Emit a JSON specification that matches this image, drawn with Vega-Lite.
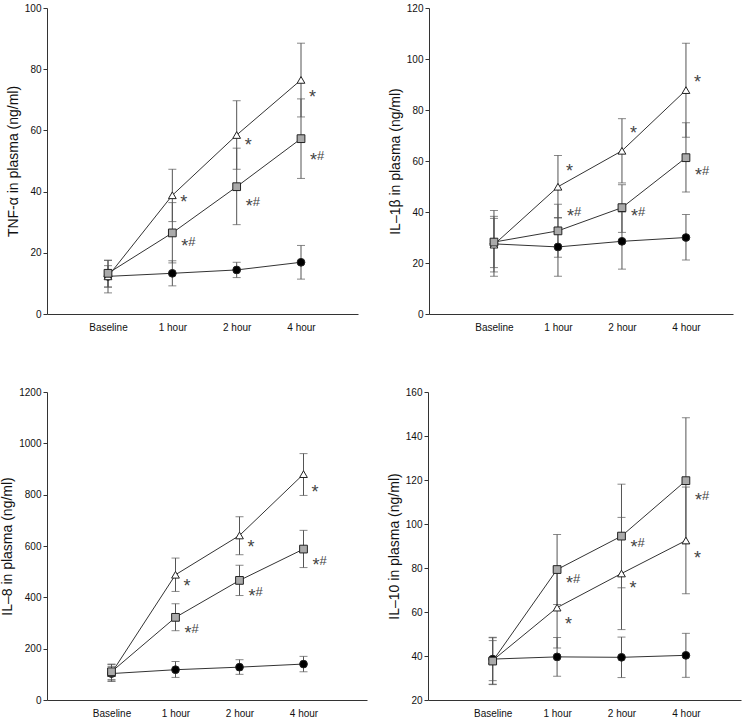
{
"$schema": "https://vega.github.io/schema/vega-lite/v6.json",
"padding": {"left": 0, "top": 3, "right": 5, "bottom": 0},
"background": "white",
"datasets": {
"pts": [
{"p":"TNF","t":"Baseline","g":"ctrl","v":12.3,"lo":6.9,"hi":17.6},
{"p":"TNF","t":"1 hour","g":"ctrl","v":13.3,"lo":9.2,"hi":17.4},
{"p":"TNF","t":"2 hour","g":"ctrl","v":14.4,"lo":11.9,"hi":16.9},
{"p":"TNF","t":"4 hour","g":"ctrl","v":16.9,"lo":11.4,"hi":22.4},
{"p":"TNF","t":"Baseline","g":"tri","v":12.3,"lo":8.8,"hi":15.8},
{"p":"TNF","t":"1 hour","g":"tri","v":38.8,"lo":30.2,"hi":47.3},
{"p":"TNF","t":"2 hour","g":"tri","v":58.5,"lo":47.3,"hi":69.7},
{"p":"TNF","t":"4 hour","g":"tri","v":76.5,"lo":64.4,"hi":88.5},
{"p":"TNF","t":"Baseline","g":"sq","v":13.3,"lo":8.8,"hi":17.5},
{"p":"TNF","t":"1 hour","g":"sq","v":26.5,"lo":16.7,"hi":36.4},
{"p":"TNF","t":"2 hour","g":"sq","v":41.6,"lo":29.2,"hi":54.2},
{"p":"TNF","t":"4 hour","g":"sq","v":57.3,"lo":44.3,"hi":70.3},
{"p":"IL1","t":"Baseline","g":"ctrl","v":27.5,"lo":16.5,"hi":38.3},
{"p":"IL1","t":"1 hour","g":"ctrl","v":26.3,"lo":14.8,"hi":37.8},
{"p":"IL1","t":"2 hour","g":"ctrl","v":28.5,"lo":17.6,"hi":40.0},
{"p":"IL1","t":"4 hour","g":"ctrl","v":30.0,"lo":21.2,"hi":39.0},
{"p":"IL1","t":"Baseline","g":"tri","v":27.2,"lo":14.8,"hi":40.6},
{"p":"IL1","t":"1 hour","g":"tri","v":49.9,"lo":37.6,"hi":62.2},
{"p":"IL1","t":"2 hour","g":"tri","v":64.0,"lo":51.4,"hi":76.6},
{"p":"IL1","t":"4 hour","g":"tri","v":87.8,"lo":69.3,"hi":106.2},
{"p":"IL1","t":"Baseline","g":"sq","v":28.2,"lo":18.2,"hi":37.5},
{"p":"IL1","t":"1 hour","g":"sq","v":32.6,"lo":22.3,"hi":43.0},
{"p":"IL1","t":"2 hour","g":"sq","v":41.7,"lo":32.0,"hi":50.7},
{"p":"IL1","t":"4 hour","g":"sq","v":61.3,"lo":47.8,"hi":75.0},
{"p":"IL8","t":"Baseline","g":"ctrl","v":103,"lo":75,"hi":131},
{"p":"IL8","t":"1 hour","g":"ctrl","v":118,"lo":88,"hi":150},
{"p":"IL8","t":"2 hour","g":"ctrl","v":128,"lo":100,"hi":157},
{"p":"IL8","t":"4 hour","g":"ctrl","v":140,"lo":110,"hi":170},
{"p":"IL8","t":"Baseline","g":"tri","v":105,"lo":72,"hi":138},
{"p":"IL8","t":"1 hour","g":"tri","v":488,"lo":423,"hi":553},
{"p":"IL8","t":"2 hour","g":"tri","v":641,"lo":566,"hi":714},
{"p":"IL8","t":"4 hour","g":"tri","v":880,"lo":797,"hi":960},
{"p":"IL8","t":"Baseline","g":"sq","v":110,"lo":80,"hi":140},
{"p":"IL8","t":"1 hour","g":"sq","v":322,"lo":270,"hi":375},
{"p":"IL8","t":"2 hour","g":"sq","v":466,"lo":407,"hi":525},
{"p":"IL8","t":"4 hour","g":"sq","v":588,"lo":516,"hi":661},
{"p":"IL10","t":"Baseline","g":"ctrl","v":38.6,"lo":28.8,"hi":48.3},
{"p":"IL10","t":"1 hour","g":"ctrl","v":39.6,"lo":30.8,"hi":48.4},
{"p":"IL10","t":"2 hour","g":"ctrl","v":39.4,"lo":30.2,"hi":48.6},
{"p":"IL10","t":"4 hour","g":"ctrl","v":40.3,"lo":30.3,"hi":50.3},
{"p":"IL10","t":"Baseline","g":"tri","v":38.0,"lo":27.0,"hi":48.5},
{"p":"IL10","t":"1 hour","g":"tri","v":62.0,"lo":43.6,"hi":80.4},
{"p":"IL10","t":"2 hour","g":"tri","v":77.5,"lo":52.0,"hi":103.0},
{"p":"IL10","t":"4 hour","g":"tri","v":92.5,"lo":68.3,"hi":116.8},
{"p":"IL10","t":"Baseline","g":"sq","v":37.7,"lo":27.2,"hi":47.0},
{"p":"IL10","t":"1 hour","g":"sq","v":79.3,"lo":63.4,"hi":95.2},
{"p":"IL10","t":"2 hour","g":"sq","v":94.5,"lo":71.0,"hi":118.1},
{"p":"IL10","t":"4 hour","g":"sq","v":119.7,"lo":91.1,"hi":148.3}
],
"ann": [
{"p":"TNF","t":"1 hour","lab":"*","ly":38.1},
{"p":"TNF","t":"1 hour","lab":"*#","ly":23.7},
{"p":"TNF","t":"2 hour","lab":"*","ly":56.9},
{"p":"TNF","t":"2 hour","lab":"*#","ly":36.8},
{"p":"TNF","t":"4 hour","lab":"*","ly":72.7},
{"p":"TNF","t":"4 hour","lab":"*#","ly":52},
{"p":"IL1","t":"1 hour","lab":"*","ly":58.2},
{"p":"IL1","t":"1 hour","lab":"*#","ly":40.2},
{"p":"IL1","t":"2 hour","lab":"*","ly":73.1},
{"p":"IL1","t":"2 hour","lab":"*#","ly":40.2},
{"p":"IL1","t":"4 hour","lab":"*","ly":92.8},
{"p":"IL1","t":"4 hour","lab":"*#","ly":56.3},
{"p":"IL8","t":"1 hour","lab":"*","ly":462},
{"p":"IL8","t":"1 hour","lab":"*#","ly":282},
{"p":"IL8","t":"2 hour","lab":"*","ly":614},
{"p":"IL8","t":"2 hour","lab":"*#","ly":425},
{"p":"IL8","t":"4 hour","lab":"*","ly":830},
{"p":"IL8","t":"4 hour","lab":"*#","ly":546},
{"p":"IL10","t":"1 hour","lab":"*#","ly":75.4},
{"p":"IL10","t":"1 hour","lab":"*","ly":56.9},
{"p":"IL10","t":"2 hour","lab":"*#","ly":91.6},
{"p":"IL10","t":"2 hour","lab":"*","ly":73.1},
{"p":"IL10","t":"4 hour","lab":"*#","ly":113.3},
{"p":"IL10","t":"4 hour","lab":"*","ly":86.7}
]
},
"vconcat": [
{"hconcat": [
{
"width": 311, "height": 306,
"encoding": {"x": {"field": "t", "type": "ordinal", "title": null, "scale": {"type": "point", "domain": ["Baseline","1 hour","2 hour","4 hour"], "padding": 0.917, "align": 0.517}, "axis": {"labelAngle": 0}}},
"layer": [
{"data": {"name": "pts"}, "transform": [{"filter": "datum.p === 'TNF'"}], "mark": {"type": "rule", "color": "#555", "strokeWidth": 1}, "encoding": {"y": {"field": "lo", "type": "quantitative", "title": "TNF-α in plasma (ng/ml)"}, "y2": {"field": "hi"}, "detail": {"field": "g"}}},
{"data": {"name": "pts"}, "transform": [{"filter": "datum.p === 'TNF'"}], "mark": {"type": "tick", "color": "#555", "size": 8, "thickness": 1}, "encoding": {"y": {"field": "lo", "type": "quantitative", "title": "TNF-α in plasma (ng/ml)"}}},
{"data": {"name": "pts"}, "transform": [{"filter": "datum.p === 'TNF'"}], "mark": {"type": "tick", "color": "#555", "size": 8, "thickness": 1}, "encoding": {"y": {"field": "hi", "type": "quantitative", "title": "TNF-α in plasma (ng/ml)"}}},
{"data": {"name": "pts"}, "transform": [{"filter": "datum.p === 'TNF'"}], "mark": {"type": "line", "color": "#333", "strokeWidth": 1}, "encoding": {"y": {"field": "v", "type": "quantitative", "title": "TNF-α in plasma (ng/ml)", "scale": {"domain": [0, 100], "nice": false}, "axis": {"values": [0,20,40,60,80,100], "format": "d"}}, "detail": {"field": "g"}}},
{"data": {"name": "pts"}, "transform": [{"filter": "datum.p === 'TNF'"}], "mark": {"type": "point", "filled": true, "size": 60, "stroke": "#222", "strokeWidth": 1, "opacity": 1}, "encoding": {"y": {"field": "v", "type": "quantitative", "title": "TNF-α in plasma (ng/ml)"}, "shape": {"field": "g", "type": "nominal", "scale": {"domain": ["ctrl","tri","sq"], "range": ["circle","triangle-up","square"]}, "legend": null}, "fill": {"field": "g", "type": "nominal", "scale": {"domain": ["ctrl","tri","sq"], "range": ["#000000","#ffffff","#aaaaaa"]}, "legend": null}}},
{"data": {"name": "ann"}, "transform": [{"filter": "datum.p === 'TNF' && datum.lab === '*'"}], "mark": {"type": "text", "align": "left", "baseline": "middle", "dx": 8, "dy": 6, "fontSize": 18, "font": "Liberation Sans", "color": "#444"}, "encoding": {"y": {"field": "ly", "type": "quantitative", "title": "TNF-α in plasma (ng/ml)"}, "text": {"field": "lab"}}},
{"data": {"name": "ann"}, "transform": [{"filter": "datum.p === 'TNF' && datum.lab === '*#'"}], "mark": {"type": "text", "align": "left", "baseline": "middle", "dx": 9, "dy": 6, "fontSize": 18, "font": "Liberation Sans", "color": "#444"}, "encoding": {"y": {"field": "ly", "type": "quantitative", "title": "TNF-α in plasma (ng/ml)"}, "text": {"value": "*"}}},
{"data": {"name": "ann"}, "transform": [{"filter": "datum.p === 'TNF' && datum.lab === '*#'"}], "mark": {"type": "text", "align": "left", "baseline": "middle", "dx": 16, "dy": 1, "fontSize": 13, "font": "Liberation Sans", "color": "#444"}, "encoding": {"y": {"field": "ly", "type": "quantitative", "title": "TNF-α in plasma (ng/ml)"}, "text": {"value": "#"}}}
]
},
{
"width": 304, "height": 306,
"encoding": {"x": {"field": "t", "type": "ordinal", "title": null, "scale": {"type": "point", "domain": ["Baseline","1 hour","2 hour","4 hour"], "padding": 0.875, "align": 0.58}, "axis": {"labelAngle": 0}}},
"layer": [
{"data": {"name": "pts"}, "transform": [{"filter": "datum.p === 'IL1'"}], "mark": {"type": "rule", "color": "#555", "strokeWidth": 1}, "encoding": {"y": {"field": "lo", "type": "quantitative", "title": "IL–1β in plasma (ng/ml)"}, "y2": {"field": "hi"}, "detail": {"field": "g"}}},
{"data": {"name": "pts"}, "transform": [{"filter": "datum.p === 'IL1'"}], "mark": {"type": "tick", "color": "#555", "size": 8, "thickness": 1}, "encoding": {"y": {"field": "lo", "type": "quantitative", "title": "IL–1β in plasma (ng/ml)"}}},
{"data": {"name": "pts"}, "transform": [{"filter": "datum.p === 'IL1'"}], "mark": {"type": "tick", "color": "#555", "size": 8, "thickness": 1}, "encoding": {"y": {"field": "hi", "type": "quantitative", "title": "IL–1β in plasma (ng/ml)"}}},
{"data": {"name": "pts"}, "transform": [{"filter": "datum.p === 'IL1'"}], "mark": {"type": "line", "color": "#333", "strokeWidth": 1}, "encoding": {"y": {"field": "v", "type": "quantitative", "title": "IL–1β in plasma (ng/ml)", "scale": {"domain": [0, 120], "nice": false}, "axis": {"values": [0,20,40,60,80,100,120], "format": "d"}}, "detail": {"field": "g"}}},
{"data": {"name": "pts"}, "transform": [{"filter": "datum.p === 'IL1'"}], "mark": {"type": "point", "filled": true, "size": 60, "stroke": "#222", "strokeWidth": 1, "opacity": 1}, "encoding": {"y": {"field": "v", "type": "quantitative", "title": "IL–1β in plasma (ng/ml)"}, "shape": {"field": "g", "type": "nominal", "scale": {"domain": ["ctrl","tri","sq"], "range": ["circle","triangle-up","square"]}, "legend": null}, "fill": {"field": "g", "type": "nominal", "scale": {"domain": ["ctrl","tri","sq"], "range": ["#000000","#ffffff","#aaaaaa"]}, "legend": null}}},
{"data": {"name": "ann"}, "transform": [{"filter": "datum.p === 'IL1' && datum.lab === '*'"}], "mark": {"type": "text", "align": "left", "baseline": "middle", "dx": 8, "dy": 6, "fontSize": 18, "font": "Liberation Sans", "color": "#444"}, "encoding": {"y": {"field": "ly", "type": "quantitative", "title": "IL–1β in plasma (ng/ml)"}, "text": {"field": "lab"}}},
{"data": {"name": "ann"}, "transform": [{"filter": "datum.p === 'IL1' && datum.lab === '*#'"}], "mark": {"type": "text", "align": "left", "baseline": "middle", "dx": 9, "dy": 6, "fontSize": 18, "font": "Liberation Sans", "color": "#444"}, "encoding": {"y": {"field": "ly", "type": "quantitative", "title": "IL–1β in plasma (ng/ml)"}, "text": {"value": "*"}}},
{"data": {"name": "ann"}, "transform": [{"filter": "datum.p === 'IL1' && datum.lab === '*#'"}], "mark": {"type": "text", "align": "left", "baseline": "middle", "dx": 16, "dy": 1, "fontSize": 13, "font": "Liberation Sans", "color": "#444"}, "encoding": {"y": {"field": "ly", "type": "quantitative", "title": "IL–1β in plasma (ng/ml)"}, "text": {"value": "#"}}}
]
}
], "spacing": 30},
{"hconcat": [
{
"width": 320, "height": 308,
"encoding": {"x": {"field": "t", "type": "ordinal", "title": null, "scale": {"type": "point", "domain": ["Baseline","1 hour","2 hour","4 hour"], "padding": 1.04, "align": 0.504}, "axis": {"labelAngle": 0}}},
"layer": [
{"data": {"name": "pts"}, "transform": [{"filter": "datum.p === 'IL8'"}], "mark": {"type": "rule", "color": "#555", "strokeWidth": 1}, "encoding": {"y": {"field": "lo", "type": "quantitative", "title": "IL–8 in plasma (ng/ml)"}, "y2": {"field": "hi"}, "detail": {"field": "g"}}},
{"data": {"name": "pts"}, "transform": [{"filter": "datum.p === 'IL8'"}], "mark": {"type": "tick", "color": "#555", "size": 8, "thickness": 1}, "encoding": {"y": {"field": "lo", "type": "quantitative", "title": "IL–8 in plasma (ng/ml)"}}},
{"data": {"name": "pts"}, "transform": [{"filter": "datum.p === 'IL8'"}], "mark": {"type": "tick", "color": "#555", "size": 8, "thickness": 1}, "encoding": {"y": {"field": "hi", "type": "quantitative", "title": "IL–8 in plasma (ng/ml)"}}},
{"data": {"name": "pts"}, "transform": [{"filter": "datum.p === 'IL8'"}], "mark": {"type": "line", "color": "#333", "strokeWidth": 1}, "encoding": {"y": {"field": "v", "type": "quantitative", "title": "IL–8 in plasma (ng/ml)", "scale": {"domain": [0, 1200], "nice": false}, "axis": {"values": [0,200,400,600,800,1000,1200], "format": "d"}}, "detail": {"field": "g"}}},
{"data": {"name": "pts"}, "transform": [{"filter": "datum.p === 'IL8'"}], "mark": {"type": "point", "filled": true, "size": 60, "stroke": "#222", "strokeWidth": 1, "opacity": 1}, "encoding": {"y": {"field": "v", "type": "quantitative", "title": "IL–8 in plasma (ng/ml)"}, "shape": {"field": "g", "type": "nominal", "scale": {"domain": ["ctrl","tri","sq"], "range": ["circle","triangle-up","square"]}, "legend": null}, "fill": {"field": "g", "type": "nominal", "scale": {"domain": ["ctrl","tri","sq"], "range": ["#000000","#ffffff","#aaaaaa"]}, "legend": null}}},
{"data": {"name": "ann"}, "transform": [{"filter": "datum.p === 'IL8' && datum.lab === '*'"}], "mark": {"type": "text", "align": "left", "baseline": "middle", "dx": 8, "dy": 6, "fontSize": 18, "font": "Liberation Sans", "color": "#444"}, "encoding": {"y": {"field": "ly", "type": "quantitative", "title": "IL–8 in plasma (ng/ml)"}, "text": {"field": "lab"}}},
{"data": {"name": "ann"}, "transform": [{"filter": "datum.p === 'IL8' && datum.lab === '*#'"}], "mark": {"type": "text", "align": "left", "baseline": "middle", "dx": 9, "dy": 6, "fontSize": 18, "font": "Liberation Sans", "color": "#444"}, "encoding": {"y": {"field": "ly", "type": "quantitative", "title": "IL–8 in plasma (ng/ml)"}, "text": {"value": "*"}}},
{"data": {"name": "ann"}, "transform": [{"filter": "datum.p === 'IL8' && datum.lab === '*#'"}], "mark": {"type": "text", "align": "left", "baseline": "middle", "dx": 16, "dy": 1, "fontSize": 13, "font": "Liberation Sans", "color": "#444"}, "encoding": {"y": {"field": "ly", "type": "quantitative", "title": "IL–8 in plasma (ng/ml)"}, "text": {"value": "#"}}}
]
},
{
"width": 313, "height": 308,
"encoding": {"x": {"field": "t", "type": "ordinal", "title": null, "scale": {"type": "point", "domain": ["Baseline","1 hour","2 hour","4 hour"], "padding": 0.93, "align": 0.54}, "axis": {"labelAngle": 0}}},
"layer": [
{"data": {"name": "pts"}, "transform": [{"filter": "datum.p === 'IL10'"}], "mark": {"type": "rule", "color": "#555", "strokeWidth": 1}, "encoding": {"y": {"field": "lo", "type": "quantitative", "title": "IL–10 in plasma (ng/ml)"}, "y2": {"field": "hi"}, "detail": {"field": "g"}}},
{"data": {"name": "pts"}, "transform": [{"filter": "datum.p === 'IL10'"}], "mark": {"type": "tick", "color": "#555", "size": 8, "thickness": 1}, "encoding": {"y": {"field": "lo", "type": "quantitative", "title": "IL–10 in plasma (ng/ml)"}}},
{"data": {"name": "pts"}, "transform": [{"filter": "datum.p === 'IL10'"}], "mark": {"type": "tick", "color": "#555", "size": 8, "thickness": 1}, "encoding": {"y": {"field": "hi", "type": "quantitative", "title": "IL–10 in plasma (ng/ml)"}}},
{"data": {"name": "pts"}, "transform": [{"filter": "datum.p === 'IL10'"}], "mark": {"type": "line", "color": "#333", "strokeWidth": 1}, "encoding": {"y": {"field": "v", "type": "quantitative", "title": "IL–10 in plasma (ng/ml)", "scale": {"domain": [20, 160], "nice": false, "zero": false}, "axis": {"values": [20,40,60,80,100,120,140,160], "format": "d"}}, "detail": {"field": "g"}}},
{"data": {"name": "pts"}, "transform": [{"filter": "datum.p === 'IL10'"}], "mark": {"type": "point", "filled": true, "size": 60, "stroke": "#222", "strokeWidth": 1, "opacity": 1}, "encoding": {"y": {"field": "v", "type": "quantitative", "title": "IL–10 in plasma (ng/ml)"}, "shape": {"field": "g", "type": "nominal", "scale": {"domain": ["ctrl","tri","sq"], "range": ["circle","triangle-up","square"]}, "legend": null}, "fill": {"field": "g", "type": "nominal", "scale": {"domain": ["ctrl","tri","sq"], "range": ["#000000","#ffffff","#aaaaaa"]}, "legend": null}}},
{"data": {"name": "ann"}, "transform": [{"filter": "datum.p === 'IL10' && datum.lab === '*'"}], "mark": {"type": "text", "align": "left", "baseline": "middle", "dx": 8, "dy": 6, "fontSize": 18, "font": "Liberation Sans", "color": "#444"}, "encoding": {"y": {"field": "ly", "type": "quantitative", "title": "IL–10 in plasma (ng/ml)"}, "text": {"field": "lab"}}},
{"data": {"name": "ann"}, "transform": [{"filter": "datum.p === 'IL10' && datum.lab === '*#'"}], "mark": {"type": "text", "align": "left", "baseline": "middle", "dx": 9, "dy": 6, "fontSize": 18, "font": "Liberation Sans", "color": "#444"}, "encoding": {"y": {"field": "ly", "type": "quantitative", "title": "IL–10 in plasma (ng/ml)"}, "text": {"value": "*"}}},
{"data": {"name": "ann"}, "transform": [{"filter": "datum.p === 'IL10' && datum.lab === '*#'"}], "mark": {"type": "text", "align": "left", "baseline": "middle", "dx": 16, "dy": 1, "fontSize": 13, "font": "Liberation Sans", "color": "#444"}, "encoding": {"y": {"field": "ly", "type": "quantitative", "title": "IL–10 in plasma (ng/ml)"}, "text": {"value": "#"}}}
]
}
], "spacing": 20}
],
"spacing": 55,
"resolve": {"scale": {"shape": "independent", "fill": "independent"}},
"config": {
"view": {"stroke": null},
"axis": {"grid": false, "domainColor": "#333", "tickColor": "#333", "labelColor": "#111", "labelFont": "Liberation Sans", "labelFontSize": 10, "titleFont": "Liberation Sans", "titleFontSize": 14, "titleFontWeight": "normal", "titleColor": "#111"},
"axisX": {"ticks": false, "labelPadding": 8, "domainWidth": 1},
"axisY": {"tickSize": 4, "labelPadding": 2, "titlePadding": 4}
}
}
